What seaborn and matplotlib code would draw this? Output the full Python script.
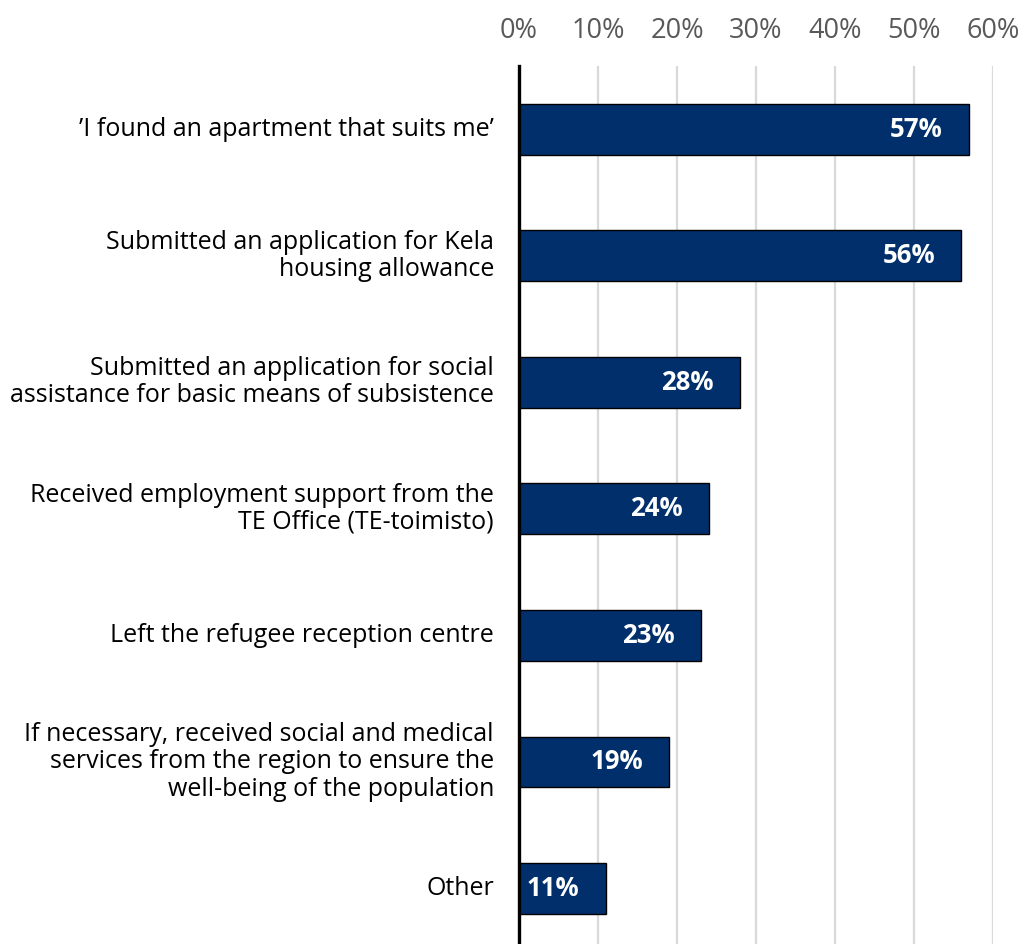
import matplotlib
matplotlib.use("Agg")
import matplotlib.pyplot as plt
import seaborn as sns
import pandas as pd

categories = [
    "\u2019I found an apartment that suits me\u2019",
    "Submitted an application for Kela\nhousing allowance",
    "Submitted an application for social\nassistance for basic means of subsistence",
    "Received employment support from the\nTE Office (TE-toimisto)",
    "Left the refugee reception centre",
    "If necessary, received social and medical\nservices from the region to ensure the\nwell-being of the population",
    "Other",
]
values = [57, 56, 28, 24, 23, 19, 11]
tick_values = [0, 10, 20, 30, 40, 50, 60]
tick_labels = ["0%", "10%", "20%", "30%", "40%", "50%", "60%"]

df = pd.DataFrame({"category": categories, "value": values})

sns.set_theme(style="white")
plt.rcParams["font.family"] = ["Open Sans", "DejaVu Sans"]

fig = plt.figure(figsize=(10.21, 9.44), dpi=100)
ax = fig.add_axes([519 / 1021, 0.0, (993 - 519) / 1021, (944 - 66) / 944])

sns.barplot(data=df, x="value", y="category", orient="h", color="#002F6B",
            saturation=1, width=0.4, edgecolor="black", linewidth=1.0,
            ax=ax, zorder=3)

ax.set_xlim(0, 60)
ax.set_ylim(6.44, -0.5)
ax.set_xticks(tick_values)
ax.set_xticklabels(tick_labels)
ax.xaxis.tick_top()
ax.tick_params(axis="x", length=0, pad=15, labelsize=19.5, labelcolor="#595959")
ax.tick_params(axis="y", length=0, pad=18, labelsize=18, labelcolor="black")
ax.set_xlabel("")
ax.set_ylabel("")
for lab in ax.get_yticklabels():
    lab.set_horizontalalignment("right")
    lab.set_multialignment("right")
    lab.set_verticalalignment("center")
    lab.set_linespacing(1.12)

ax.grid(axis="x", color="#d9d9d9", linewidth=1.6, zorder=0)
for side in ["top", "right", "bottom"]:
    ax.spines[side].set_visible(False)
ax.spines["left"].set_color("black")
ax.spines["left"].set_linewidth(2.4)
ax.spines["left"].set_zorder(5)

for i, v in enumerate(values):
    ax.annotate(f"{v}%", xy=(v, i), xytext=(-19, 0), textcoords="offset points",
                ha="right", va="center", color="white", fontsize=18.5,
                fontweight="bold", zorder=6)

fig.savefig("out.png", dpi=100)
